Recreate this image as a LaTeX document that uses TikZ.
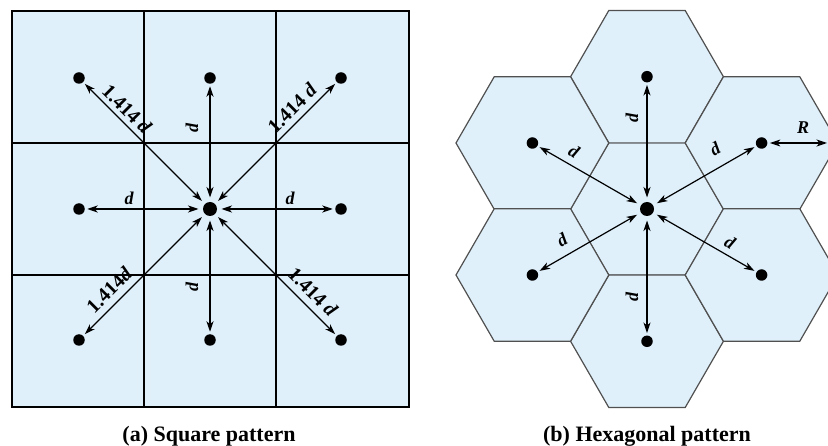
\documentclass[tikz,border=0pt]{standalone}
\usepackage{fontspec}
\setmainfont{Liberation Serif}
\usetikzlibrary{arrows.meta}
\definecolor{cellblue}{RGB}{223,240,251}
\definecolor{hexline}{RGB}{80,80,80}
\tikzset{
 cell/.style={fill=cellblue, draw=black, line width=1.6pt},
 gridline/.style={draw=black, line width=1.3pt},
 hexcell/.style={fill=cellblue, draw=hexline, line width=1.2pt, line join=miter},
 dot/.style={circle, fill=black, inner sep=0pt, minimum size=11.5pt, outer sep=2.5pt},
 hub/.style={circle, fill=black, inner sep=0pt, minimum size=14pt, outer sep=4.5pt},
 link/.style={line width=1.2pt, {Stealth[length=10.5pt,width=7pt,inset=3pt]}-{Stealth[length=10.5pt,width=7pt,inset=3pt]}},
 lbl/.style={font=\fontsize{18}{18}\selectfont\bfseries\itshape, inner sep=0pt},
 numlbl/.style={font=\fontsize{20}{20}\selectfont\bfseries, inner sep=0pt},
 caption/.style={font=\fontsize{22}{22}\selectfont\bfseries, inner sep=0pt, anchor=base},
}
\begin{document}
\begin{tikzpicture}[x=1pt,y=-1pt]
\path[use as bounding box] (0,0) rectangle (828,446);
\clip (0,0) rectangle (828,446);
% ---------- square pattern ----------
\draw[cell] (12,11) rectangle (409,407);
\draw[gridline] (144,11) -- (144,407);
\draw[gridline] (276,11) -- (276,407);
\draw[gridline] (12,143) -- (409,143);
\draw[gridline] (12,275) -- (409,275);
\node[hub] (sc) at (210,209) {};
\node[dot] (sul) at (79,78) {};
\node[dot] (su)  at (210,78) {};
\node[dot] (sur) at (341,78) {};
\node[dot] (sl)  at (79,209) {};
\node[dot] (sr)  at (341,209) {};
\node[dot] (sll) at (79,340) {};
\node[dot] (sd)  at (210,340) {};
\node[dot] (slr) at (341,340) {};
\foreach \t in {sul,su,sur,sl,sr,sll,sd,slr} \draw[link] (sc) -- (\t);
\node[numlbl, rotate=-45] at (127,109) {1.414 \textit{d}};
\node[numlbl, rotate=45]  at (292,108) {1.414 \textit{d}};
\node[numlbl, rotate=45]  at (109,290) {1.414\textit{d}};
\node[numlbl, rotate=-45] at (313,292) {1.414 \textit{d}};
\node[lbl] at (129,198) {d};
\node[lbl] at (290,198) {d};
\node[lbl, rotate=90] at (192,128) {d};
\node[lbl, rotate=90] at (192,287) {d};
\node[caption] at (209,441.5) {(a) Square pattern};
% ---------- hexagonal pattern ----------
\foreach \cx/\cy in {647/209, 647/76.7, 647/341.3, 532.4/143, 761.6/143, 532.4/275, 761.6/275}
  \draw[hexcell] (\cx,\cy) +(76.4,0) -- +(38.2,66.2) -- +(-38.2,66.2) -- +(-76.4,0) -- +(-38.2,-66.2) -- +(38.2,-66.2) -- cycle;
\node[hub] (hc) at (647,209) {};
\node[dot] (hu)  at (647,76.7) {};
\node[dot] (hd)  at (647,341.3) {};
\node[dot] (hul) at (532.4,143) {};
\node[dot] (hur) at (761.6,143) {};
\node[dot] (hll) at (532.4,275) {};
\node[dot] (hlr) at (761.6,275) {};
\foreach \t in {hu,hd,hul,hur,hll,hlr} \draw[link] (hc) -- (\t);
\coordinate (rend) at (827,143);
\draw[link] (hur) -- (rend);
\node[lbl, rotate=-30] at (574,151) {d};
\node[lbl, rotate=30]  at (715,149) {d};
\node[lbl, rotate=30]  at (562,240) {d};
\node[lbl, rotate=-30] at (730,242) {d};
\node[lbl, rotate=90] at (632,118) {d};
\node[lbl, rotate=90] at (632,297) {d};
\node[lbl] at (803,128) {R};
\node[caption] at (647,441.5) {(b) Hexagonal pattern};
\end{tikzpicture}
\end{document}
